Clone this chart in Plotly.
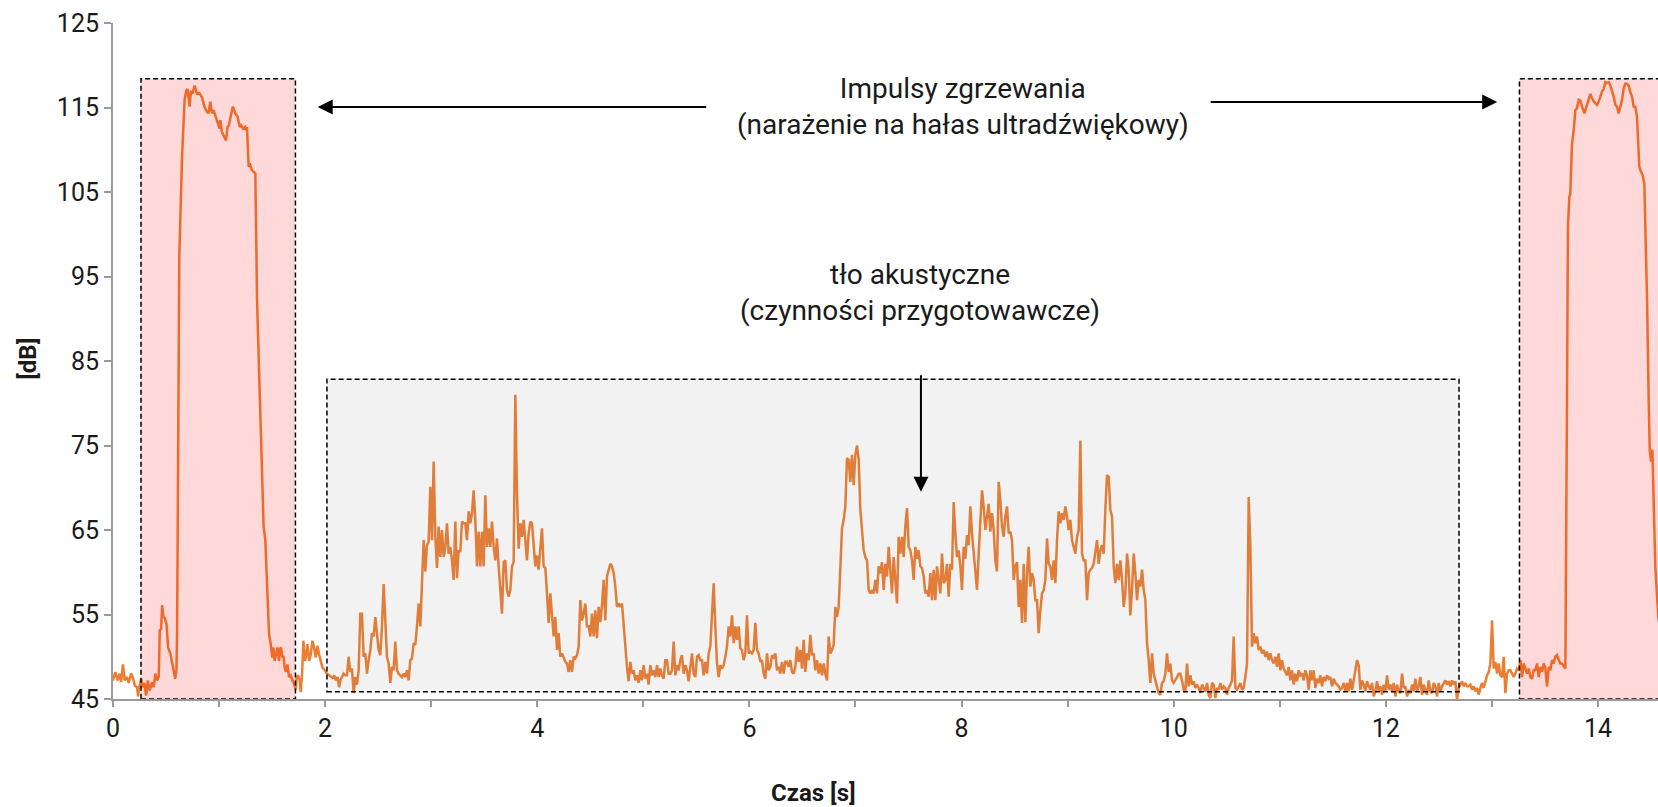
import plotly.graph_objects as go

# ---------------------------------------------------------------------------
# Poziom dźwięku [dB] w funkcji czasu [s]
# ---------------------------------------------------------------------------

# tło przed pierwszym impulsem
t_start = [0.000, 0.022, 0.044, 0.063, 0.076, 0.094, 0.110, 0.132, 0.148, 0.170,
           0.189, 0.205, 0.227, 0.236, 0.252, 0.265, 0.277, 0.296, 0.312, 0.328,
           0.346, 0.369, 0.384, 0.400, 0.416, 0.431, 0.441, 0.454, 0.463, 0.476,
           0.488, 0.504, 0.520, 0.542, 0.567, 0.586, 0.598]
db_start = [47.2, 48.2, 47.2, 48.0, 47.0, 49.1, 47.2, 47.6, 46.9, 48.0,
            47.5, 46.6, 46.4, 45.3, 46.7, 47.4, 46.4, 46.9, 45.4, 47.2,
            46.0, 47.0, 46.4, 48.0, 47.2, 47.6, 53.1, 53.3, 56.1, 54.7,
            54.6, 53.9, 51.1, 50.3, 48.7, 47.4, 48.4]

# pierwszy impuls zgrzewania
t_imp1 = [0.604, 0.610, 0.617, 0.625, 0.650, 0.675, 0.691, 0.703, 0.722, 0.735,
          0.748, 0.770, 0.792, 0.814, 0.839, 0.861, 0.886, 0.901, 0.917, 0.933,
          0.948, 0.964, 0.986, 1.005, 1.012, 1.027, 1.049, 1.065, 1.080, 1.093,
          1.112, 1.131, 1.153, 1.175, 1.194, 1.207, 1.226, 1.247, 1.257, 1.263,
          1.279, 1.294, 1.310, 1.326, 1.342, 1.358, 1.383, 1.420, 1.436, 1.455,
          1.471, 1.487]
db_imp1 = [52.8, 64.6, 80.4, 97.3, 108.8, 115.9, 117.0, 117.2, 115.1, 117.0,
           116.6, 117.6, 116.6, 116.7, 116.2, 115.1, 114.5, 114.3, 115.7, 114.3,
           114.7, 114.1, 113.3, 112.5, 113.5, 112.1, 111.5, 111.1, 112.7, 112.9,
           114.1, 115.1, 114.3, 113.9, 112.7, 112.9, 112.5, 112.7, 112.3, 112.7,
           108.0, 108.2, 107.6, 107.4, 107.2, 92.2, 80.4, 65.4, 63.8, 58.6,
           52.7, 51.5]

# wygaszanie po pierwszym impulsie
t_po_imp1 = [1.502, 1.512, 1.524, 1.537, 1.550, 1.565, 1.575, 1.584, 1.597, 1.606,
             1.619, 1.631, 1.644, 1.660, 1.676, 1.691, 1.707, 1.723, 1.732, 1.745,
             1.761, 1.770, 1.783, 1.795, 1.808, 1.817, 1.833, 1.849, 1.865, 1.880,
             1.896, 1.912, 1.928, 1.943, 1.959, 1.975, 1.991, 2.016, 2.038, 2.054,
             2.069, 2.085, 2.101, 2.117, 2.132]
db_po_imp1 = [49.9, 51.1, 49.5, 50.3, 51.1, 49.5, 50.9, 51.1, 49.9, 50.1,
              48.7, 48.2, 49.1, 47.6, 47.8, 47.2, 46.8, 46.1, 47.6, 47.8,
              47.2, 45.8, 48.0, 51.9, 49.5, 49.9, 51.5, 49.5, 50.3, 51.9,
              51.1, 49.9, 51.3, 50.3, 49.5, 48.7, 48.5, 48.0, 47.8, 47.6,
              47.5, 47.8, 47.2, 47.6, 46.4]

# tło akustyczne - próbki co KROK sekund, począwszy od T0_TLO
T0_TLO = 2.143
KROK = 0.015714

db_tlo_a = [47.2, 47.6, 48.0, 47.8, 47.8, 50.0, 48.2, 48.6, 45.7, 47.6,
            46.7, 48.4, 55.1, 55.1, 50.0, 50.4, 48.0, 49.6, 50.8, 52.8,
            52.4, 54.7, 52.4, 50.8, 50.2, 53.6, 58.6, 53.6, 50.0, 49.2,
            46.9, 48.8, 48.4, 51.8, 48.4, 48.0, 47.8, 47.6, 48.0, 47.6,
            48.4, 47.2, 49.6, 49.8, 51.6, 51.4, 53.6, 56.3, 53.6, 59.1,
            63.8, 60.1, 63.2, 63.6, 70.1, 63.8, 73.1, 64.2, 60.5, 65.4,
            61.8, 65.0, 61.8, 63.0, 65.8, 62.2, 63.0, 61.4, 59.1, 66.0,
            59.3, 62.6, 62.4, 66.0, 65.8, 65.8, 63.8, 67.2, 65.8, 67.0,
            69.7, 66.2, 60.7, 64.8, 60.7, 64.8, 60.7, 69.1, 63.0, 65.2,
            63.0, 66.0, 63.0, 61.4, 64.0, 60.7, 57.5, 55.1, 61.2, 61.4,
            57.9, 57.1, 57.9, 60.7, 61.2, 81.0, 69.3, 62.8, 65.8, 64.2,
            66.2, 64.2, 61.4, 64.6, 66.0, 65.8, 63.0, 60.7, 62.0, 60.3,
            62.8, 65.2, 60.7, 60.5, 57.5, 54.0, 57.5, 54.5, 52.4, 54.7,
            50.8, 52.8, 50.0, 50.4, 49.8, 49.4, 49.2, 48.2, 49.6, 48.2,
            50.0, 49.8, 50.2, 51.2, 56.7, 54.3, 55.1, 56.3, 53.6, 53.6,
            52.4, 55.1, 52.4, 55.5, 52.2, 55.9, 54.1, 56.1, 59.1, 54.3,
            59.5, 60.3, 61.0, 60.7, 59.9, 58.3, 55.9, 56.3, 55.9, 56.3,
            53.8, 50.4, 48.8, 47.1, 49.4, 48.0, 48.4, 47.2, 47.8, 46.9,
            48.4, 47.2, 49.0, 47.4, 48.0, 46.7, 49.0, 47.8, 48.4, 47.6,
            49.0, 47.6, 48.6, 47.8, 47.4, 49.6, 49.6, 48.0]

db_tlo_b = [48.0, 48.4, 51.8, 47.8, 49.0, 48.4, 49.6, 50.2, 48.0, 49.0,
            48.4, 47.1, 49.2, 50.4, 48.0, 47.6, 50.0, 50.2, 49.6, 49.6,
            47.8, 49.4, 48.0, 50.4, 51.2, 55.1, 58.7, 53.6, 49.2, 47.6,
            49.0, 48.6, 49.0, 50.0, 51.2, 53.6, 52.4, 54.9, 51.6, 53.6,
            52.0, 53.6, 51.0, 50.8, 49.6, 50.4, 54.9, 50.4, 50.6, 50.4,
            50.8, 54.0, 50.8, 50.4, 49.4, 49.6, 48.0, 47.4, 50.4, 48.4,
            48.8, 50.2, 49.8, 50.4, 48.4, 48.8, 48.0, 49.4, 48.0, 49.4,
            49.4, 48.8, 49.6, 48.2, 48.0, 48.8, 51.2, 49.4, 50.8, 48.6,
            52.0, 48.2, 50.4, 49.6, 52.6, 50.2, 50.4, 48.4, 49.6, 48.0,
            49.2, 47.8, 49.2, 48.0, 47.2, 52.4, 50.4, 50.8, 51.4, 55.9,
            54.7, 55.9, 61.8, 65.2, 66.2, 67.8, 73.5, 73.3, 70.7, 73.9,
            70.3, 73.9, 75.0, 73.3, 67.4, 64.6, 62.6, 61.8, 61.4, 57.9,
            57.5, 57.9, 57.5, 59.1, 57.5, 60.7, 59.9, 61.2, 57.9, 61.0,
            59.5, 63.0, 60.3, 57.5, 61.8, 59.5, 56.3, 64.2, 62.2, 64.2,
            61.8, 65.4, 67.6, 63.0, 62.6, 61.4, 59.1, 63.0, 61.6, 62.6,
            60.7, 60.5, 59.5, 57.5, 57.9, 57.1, 59.9, 56.7, 60.3, 56.7,
            60.7, 59.1, 57.5, 62.2, 58.7, 59.1, 61.0, 57.1, 61.0, 60.3,
            68.3, 64.6, 61.8, 62.6, 60.7, 57.9, 63.0, 61.6, 64.4, 63.2,
            67.8, 64.6, 62.2, 59.5, 57.9, 62.2, 66.2, 69.7, 67.8, 65.0,
            66.6, 68.1]

db_tlo_c = [64.8, 67.0, 65.0, 61.4, 60.1, 70.7, 68.5, 65.4, 64.2, 66.6,
            67.8, 64.6, 64.8, 63.8, 59.1, 60.7, 61.2, 55.9, 59.1, 54.0,
            61.0, 54.1, 59.9, 63.0, 58.3, 59.9, 59.1, 56.7, 56.7, 52.8,
            55.5, 57.5, 57.9, 59.1, 64.0, 61.0, 60.7, 59.1, 61.4, 58.7,
            63.8, 67.2, 65.8, 67.0, 66.2, 67.8, 66.6, 65.0, 66.2, 63.8,
            63.0, 62.2, 64.2, 65.0, 75.6, 62.2, 61.4, 61.4, 56.7, 59.9,
            60.3, 60.5, 61.0, 62.2, 63.8, 61.0, 62.6, 63.2, 62.2, 67.4,
            71.5, 71.3, 67.4, 66.6, 60.7, 58.7, 61.0, 59.1, 61.4, 59.1,
            55.9, 57.5, 62.2, 60.3, 54.9, 57.9, 62.2, 59.9, 56.7, 59.1,
            58.3, 60.3, 57.9, 56.7, 51.6, 49.6, 46.9, 50.4, 48.0, 47.2,
            46.5, 45.7, 45.5, 46.9, 47.1, 48.0, 50.4, 48.2, 49.2, 47.2,
            46.9, 47.2, 47.6, 48.0, 48.0, 47.2, 46.1, 45.9, 49.2, 46.5,
            47.8, 46.7, 47.1, 46.3, 46.7, 46.3, 45.7, 46.7, 46.3, 45.9,
            46.9, 45.5, 45.1, 46.9, 46.7, 45.1, 46.3, 46.1, 46.9, 46.1,
            46.5, 46.3, 45.5, 46.3, 46.7, 47.2, 52.4, 46.3, 46.1, 46.5,
            46.9, 46.1, 46.3, 47.6, 49.2, 68.9, 63.0, 51.2, 52.8, 51.6,
            52.4, 50.8, 51.2, 50.4, 50.8, 50.0, 50.6, 49.6, 50.4, 49.6,
            49.2, 50.0, 48.8, 50.4, 48.4, 49.6, 48.6, 48.2, 47.8, 48.8,
            47.2, 48.4, 46.7, 48.0, 47.1, 48.4, 47.8, 48.0, 47.2, 48.4,
            47.8, 46.1]

db_tlo_d = [48.4, 47.2, 48.4, 46.3, 47.4, 46.9, 47.8, 46.5, 47.6, 47.1,
            47.8, 47.4, 47.6, 46.5, 47.4, 46.9, 46.7, 46.5, 46.1, 46.3,
            46.9, 45.9, 46.9, 45.9, 47.4, 46.1, 47.2, 48.4, 49.6, 49.0,
            46.1, 47.2, 46.7, 45.9, 47.1, 46.5, 46.1, 46.9, 45.3, 45.9,
            47.1, 45.9, 46.5, 45.5, 46.7, 45.9, 47.8, 46.1, 46.7, 45.9,
            46.9, 45.3, 46.7, 45.9, 45.7, 48.0, 46.3, 46.5, 45.3, 45.9,
            45.7, 46.7, 45.9, 47.4, 45.9, 46.5, 47.6, 45.5, 46.7, 46.1,
            45.5, 47.2, 45.9, 45.7, 46.9, 46.5, 45.3, 46.9, 45.9, 46.5,
            46.9, 47.2, 46.7, 47.1, 46.5, 47.2, 46.7, 47.1, 44.9, 46.3,
            46.7, 47.1, 46.5, 46.9, 46.5, 46.5, 46.7, 46.1, 46.5, 45.9,
            46.3, 45.5, 46.3, 46.9, 46.3, 47.2, 47.8, 48.2, 49.2, 54.3,
            48.6, 49.4, 48.0, 49.2, 47.8, 47.6, 50.0, 45.7, 48.0, 48.4,
            48.4, 48.0, 47.6, 48.0, 48.6, 48.4, 49.6, 47.6, 49.2, 48.6,
            48.0, 48.6, 47.6, 47.4, 48.4, 48.4, 49.2, 47.6, 48.8, 48.2,
            49.2, 48.6, 46.5, 48.8, 48.4, 49.6, 49.2, 50.0, 50.2, 49.6,
            49.2, 49.2, 48.8, 48.6]

# drugi impuls zgrzewania
t_imp2 = [13.708, 13.717, 13.730, 13.739, 13.755, 13.771, 13.787, 13.802, 13.818, 13.834,
          13.850, 13.872, 13.897, 13.928, 13.944, 13.960, 13.991, 14.007, 14.023, 14.038,
          14.054, 14.070, 14.085, 14.101, 14.117, 14.132, 14.148, 14.164, 14.180, 14.195,
          14.211, 14.227, 14.242, 14.258, 14.274, 14.290, 14.305, 14.321, 14.337, 14.352,
          14.368, 14.377, 14.390, 14.399, 14.421, 14.437, 14.447, 14.463, 14.478, 14.488,
          14.500, 14.513, 14.525, 14.541, 14.569, 14.600]
db_imp2 = [80.4, 100.9, 104.4, 104.8, 110.7, 112.3, 114.7, 114.9, 115.9, 115.8,
           115.1, 114.3, 115.3, 116.6, 116.1, 115.7, 115.3, 115.7, 116.3, 116.9,
           117.2, 118.0, 117.9, 118.0, 117.6, 117.0, 116.3, 115.3, 115.1, 114.3,
           115.1, 115.9, 117.2, 117.8, 117.8, 117.6, 116.8, 116.3, 115.1, 115.1,
           113.9, 111.1, 108.0, 107.6, 107.0, 106.0, 100.9, 92.2, 80.4, 74.5,
           73.1, 74.5, 68.5, 60.6, 54.7, 52.0]

# osie
y_ticks = [45, 55, 65, 75, 85, 95, 105, 115, 125]
x_ticks = list(range(0, 15))
x_labels = [str(v) if v % 2 == 0 else "" for v in x_ticks]

# ---------------------------------------------------------------------------
db_tlo = db_tlo_a + db_tlo_b + db_tlo_c + db_tlo_d
t_tlo = [round(T0_TLO + i * KROK, 4) for i in range(len(db_tlo))]

czas = t_start + t_imp1 + t_po_imp1 + t_tlo + t_imp2
poziom = db_start + db_imp1 + db_po_imp1 + db_tlo + db_imp2

FONT = "Roboto"
OS_KOLOR = "#9a9a9a"
TEKST = "#1a1a1a"

fig = go.Figure()
fig.add_trace(go.Scatter(
    x=czas, y=poziom, mode="lines",
    line=dict(color="#ED7D31", width=2.5),
    hoverinfo="x+y", showlegend=False,
))

ramka = dict(color="black", width=1.5, dash="5px,3px")
# obszary impulsów (półprzezroczysta czerwień nad przebiegiem)
for x0, x1 in [(0.264, 1.72), (13.26, 15.0)]:
    fig.add_shape(type="rect", xref="x", yref="y", x0=x0, x1=x1, y0=45, y1=118.4,
                  fillcolor="rgba(255,0,0,0.15)", line=ramka, layer="above")
# obszar tła akustycznego
fig.add_shape(type="rect", xref="x", yref="y", x0=2.017, x1=12.69, y0=45.86, y1=82.85,
              fillcolor="rgba(128,128,128,0.10)", line=ramka, layer="above")

strzalka = dict(showarrow=True, arrowhead=2, arrowsize=1.5, arrowwidth=2,
                arrowcolor="black", standoff=0, text="", xref="x", yref="y")
fig.add_annotation(x=1.93, y=115.06, ax=390, ay=0, **strzalka)
fig.add_annotation(x=13.05, y=115.65, ax=-288, ay=0, **strzalka)
fig.add_annotation(x=7.617, y=69.53, ax=0, ay=-118, **strzalka)

fig.add_annotation(x=8.015, y=115.06, xref="x", yref="y", showarrow=False,
                   text="Impulsy zgrzewania<br>(narażenie na hałas ultradźwiękowy)",
                   font=dict(family=FONT, size=28, color=TEKST), align="center",
                   xanchor="center", yanchor="middle")
fig.add_annotation(x=7.61, y=93.05, xref="x", yref="y", showarrow=False,
                   text="tło akustyczne<br>(czynności przygotowawcze)",
                   font=dict(family=FONT, size=28, color=TEKST), align="center",
                   xanchor="center", yanchor="middle")

# tytuły osi
fig.add_annotation(x=-0.0547, y=0.504, xref="paper", yref="paper", showarrow=False,
                   text="<b>[dB]</b>", textangle=-90, xanchor="center", yanchor="middle",
                   font=dict(family=FONT, size=24, color=TEKST))
fig.add_annotation(x=0.4537, y=-0.139, xref="paper", yref="paper", showarrow=False,
                   text="<b>Czas [s]</b>", xanchor="center", yanchor="middle",
                   font=dict(family=FONT, size=24, color=TEKST))

fig.update_layout(
    width=1658, height=807,
    margin=dict(l=113, r=0, t=23, b=108, pad=0),
    paper_bgcolor="white", plot_bgcolor="white",
    showlegend=False,
    font=dict(family=FONT, size=25, color=TEKST),
    xaxis=dict(
        range=[0, 14.566], tickmode="array", tickvals=x_ticks, ticktext=x_labels,
        ticks="outside", ticklen=6, tickwidth=2, tickcolor=OS_KOLOR,
        showline=True, linecolor=OS_KOLOR, linewidth=2,
        showgrid=False, zeroline=False,
        tickfont=dict(family=FONT, size=25, color=TEKST),
    ),
    yaxis=dict(
        range=[45, 125], tickmode="array", tickvals=y_ticks,
        ticks="outside", ticklen=7, tickwidth=2, tickcolor=OS_KOLOR,
        showline=True, linecolor=OS_KOLOR, linewidth=2,
        showgrid=False, zeroline=False,
        tickfont=dict(family=FONT, size=25, color=TEKST),
    ),
)

fig.write_html("out.html")
